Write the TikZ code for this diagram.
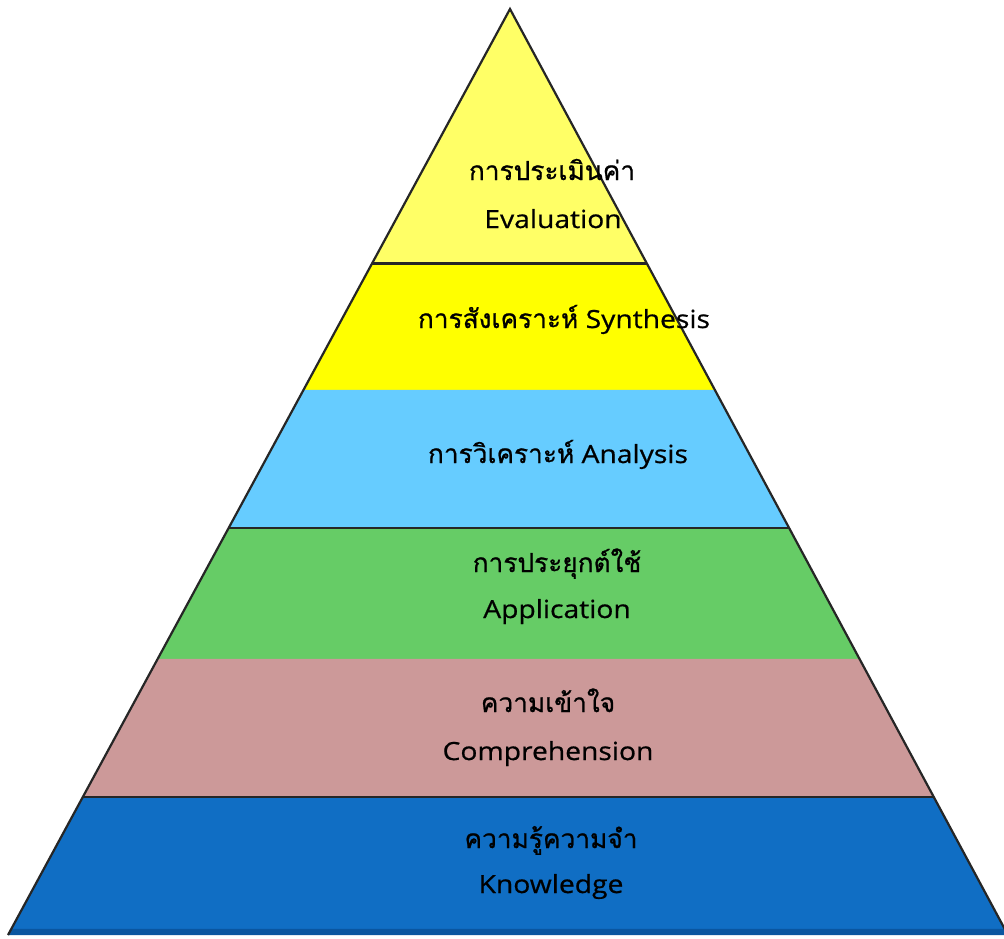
\documentclass[tikz,border=0pt]{standalone}
\usepackage{fontspec}
\setmainfont[FakeStretch=1.13,FakeBold=0.7]{Open Sans}
\newfontfamily\thaifont[Script=Thai,FakeBold=0.8,Scale=1.05]{Loma}
\usetikzlibrary{calc}

\definecolor{evalyellow}{HTML}{FFFF66}
\definecolor{synthyellow}{HTML}{FFFF00}
\definecolor{analblue}{HTML}{66CCFF}
\definecolor{appgreen}{HTML}{66CC66}
\definecolor{comppink}{HTML}{CC9999}
\definecolor{knowblue}{HTML}{106EC4}
\definecolor{baseblue}{HTML}{0A56A0}

\begin{document}
\begin{tikzpicture}[x=1pt,y=-1pt,semithick]
    \tikzstyle{bandtext}=[anchor=base,font=\fontsize{25}{30}\selectfont]
    \tikzstyle{divider}=[black!85,line width=1.5pt]

    \useasboundingbox (0,0) rectangle (1004,938);

    \coordinate (apex) at (510,9);
    \coordinate (bl)   at (8,935);
    \coordinate (br)   at (1008,935);

    % band borders on the two sides
    \coordinate (l1) at ($(apex)!0.2743!(bl)$);
    \coordinate (r1) at ($(apex)!0.2743!(br)$);
    \coordinate (l2) at ($(apex)!0.4114!(bl)$);
    \coordinate (r2) at ($(apex)!0.4114!(br)$);
    \coordinate (l3) at ($(apex)!0.5605!(bl)$);
    \coordinate (r3) at ($(apex)!0.5605!(br)$);
    \coordinate (l4) at ($(apex)!0.7019!(bl)$);
    \coordinate (r4) at ($(apex)!0.7019!(br)$);
    \coordinate (l5) at ($(apex)!0.8510!(bl)$);
    \coordinate (r5) at ($(apex)!0.8510!(br)$);
    \coordinate (l6) at ($(apex)!0.9935!(bl)$);
    \coordinate (r6) at ($(apex)!0.9935!(br)$);

    \fill[evalyellow]  (apex) -- (r1) -- (l1) -- cycle;
    \fill[synthyellow] (l1) -- (r1) -- (r2) -- (l2) -- cycle;
    \fill[analblue]    (l2) -- (r2) -- (r3) -- (l3) -- cycle;
    \fill[appgreen]    (l3) -- (r3) -- (r4) -- (l4) -- cycle;
    \fill[comppink]    (l4) -- (r4) -- (r5) -- (l5) -- cycle;
    \fill[knowblue]    (l5) -- (r5) -- (r6) -- (l6) -- cycle;
    \fill[baseblue]    (l6) -- (r6) -- (br) -- (bl) -- cycle;

    \draw[divider,line width=3pt] (l1) -- (r1);
    \draw[divider] (l3) -- (r3);
    \draw[divider] (l5) -- (r5);
    \draw[black!85,line width=2.2pt,line join=miter] (bl) -- (apex) -- (br);

    \node[bandtext] (evalth)  at (552,180) {\thaifont การประเมินค่า};
    \node[bandtext] (evalen)  at (553,228) {Evaluation};
    \node[bandtext] (synth)   at (564,328) {{\thaifont การสังเคราะห์} Synthesis};
    \node[bandtext] (anal)    at (558,463) {{\thaifont การวิเคราะห์} Analysis};
    \node[bandtext] (appth)   at (557,572) {\thaifont การประยุกต์ใช้};
    \node[bandtext] (appen)   at (557,618) {Application};
    \node[bandtext] (compth)  at (548,712) {\thaifont ความเข้าใจ};
    \node[bandtext] (compen)  at (548,760) {Comprehension};
    \node[bandtext] (knowth)  at (551,848) {\thaifont ความรู้ความจำ};
    \node[bandtext] (knowen)  at (551,893) {Knowledge};
\end{tikzpicture}
\end{document}
